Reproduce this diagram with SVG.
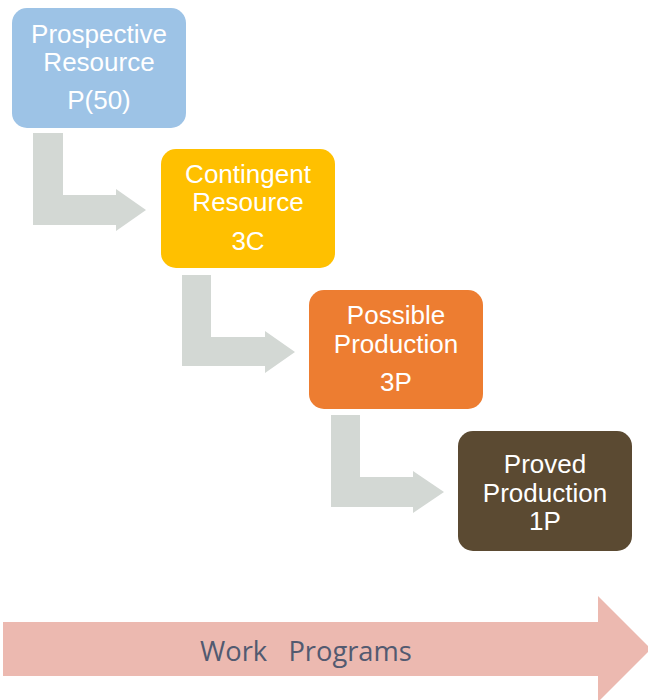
<svg xmlns="http://www.w3.org/2000/svg" width="648" height="700" viewBox="0 0 648 700">
  <style>
    .box text { font-family: "Liberation Sans", Arial, sans-serif; font-size: 26px; fill: #ffffff; text-anchor: middle; }
    .elbow { fill: #d3d8d4; }
    .band { fill: #ecb9b0; }
    .band-label { font-family: "Open Sans", "Liberation Sans", sans-serif; font-size: 27.3px; fill: #525a70; }
  </style>
  <rect width="648" height="700" fill="#ffffff"/>

  <!-- elbow arrows between stages -->
  <g id="connectors">
    <path class="elbow" d="M33,133 H63 V195 H116 V189 L146,210 L116,231 V225 H33 Z"/>
    <path class="elbow" d="M182,275 H211 V337 H265 V331 L295,352 L265,373 V366 H182 Z"/>
    <path class="elbow" d="M331,415 H360 V477 H413 V471 L444,492 L413,513 V507 H331 Z"/>
  </g>

  <g id="prospective" class="box">
    <rect x="12" y="8" width="174" height="120" rx="15" fill="#9dc3e6"/>
    <text x="99" y="43">Prospective</text>
    <text x="99" y="71">Resource</text>
    <text x="99" y="109">P(50)</text>
  </g>

  <g id="contingent" class="box">
    <rect x="161" y="149" width="174" height="119" rx="15" fill="#ffc000"/>
    <text x="248" y="183">Contingent</text>
    <text x="248" y="211">Resource</text>
    <text x="248" y="250">3C</text>
  </g>

  <g id="possible" class="box">
    <rect x="309" y="290" width="174" height="119" rx="15" fill="#ed7d31"/>
    <text x="396" y="324">Possible</text>
    <text x="396" y="353">Production</text>
    <text x="396" y="391">3P</text>
  </g>

  <g id="proved" class="box">
    <rect x="458" y="431" width="174" height="120" rx="15" fill="#5b4a32"/>
    <text x="545" y="473">Proved</text>
    <text x="545" y="502">Production</text>
    <text x="545" y="530">1P</text>
  </g>

  <!-- work programs band along the bottom -->
  <g id="work-programs">
    <path class="band" d="M3,622 H598 V596 L651,649 L598,702 V676 H3 Z"/>
    <text class="band-label" x="200" y="661" xml:space="preserve">Work   Programs</text>
  </g>
</svg>
